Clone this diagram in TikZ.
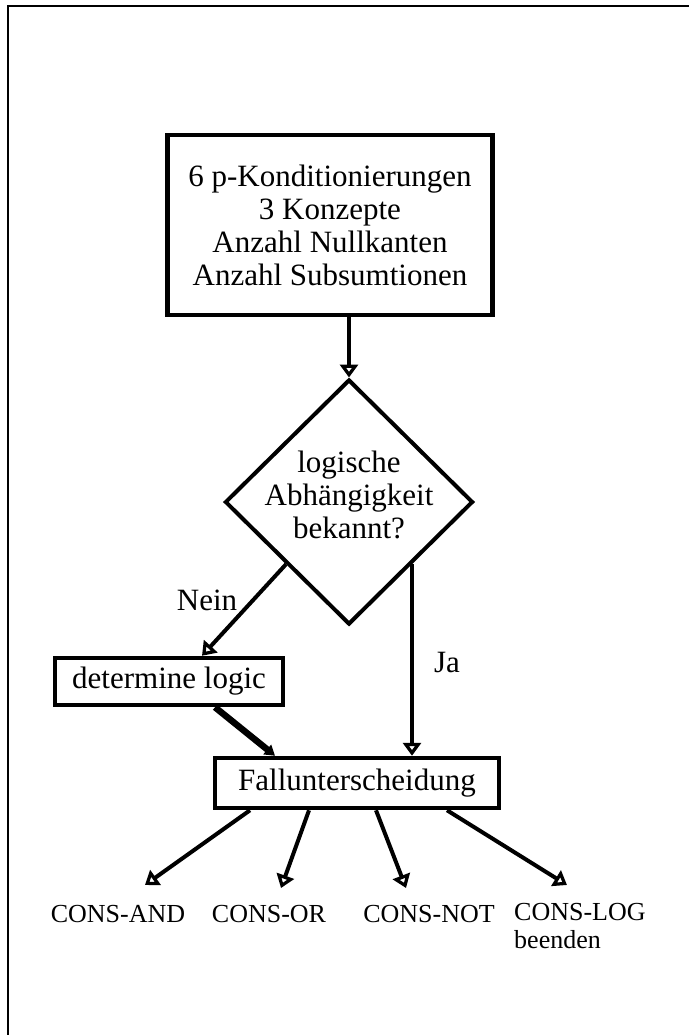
\documentclass[tikz,border=0pt]{standalone}
\usepackage{fontspec}
\setmainfont{Liberation Serif}
\usetikzlibrary{arrows.meta,shapes.geometric,calc}
\begin{document}
\begin{tikzpicture}[x=1pt,y=-1pt,
  box/.style={draw, line width=4.5pt, align=center, inner sep=0pt,
    font=\fontsize{31}{33}\selectfont},
  lbl/.style={font=\fontsize{31}{33}\selectfont, inner sep=0pt},
  cons/.style={font=\fontsize{26}{28}\selectfont, inner sep=0pt},
  flow/.style={line width=4pt,
    -{Triangle[open,length=13pt,width=18pt]}},
  heavy/.style={line width=6.5pt, -{Triangle[length=10pt,width=12pt]}},
]
\useasboundingbox (0,0) rectangle (689,1035);
% page frame (top and left edges only)
\draw[line width=1.5pt] (8,1035) -- (8,6) -- (689,6);

% nodes
\node[box, minimum width=325pt, minimum height=180pt] (spec) at (330,225)
  {6 p-Konditionierungen\\3 Konzepte\\Anzahl Nullkanten\\Anzahl Subsumtionen};
\node[diamond, draw, line width=4pt, minimum width=248pt, minimum height=245pt,
  inner sep=0pt] (dec) at (349,502) {};
\node[lbl, align=center] (dectext) at (349,495)
  {logische\\Abhängigkeit\\bekannt?};
\node[box, minimum width=228pt, minimum height=47pt] (logic) at (169,681.5)
  {determine logic};
\node[box, minimum width=284pt, minimum height=50pt] (fall) at (357,783)
  {Fallunterscheidung};

\node[lbl] (nein) at (207,600) {Nein};
\node[lbl] (ja) at (447,662) {Ja};

\node[cons] (cand) at (118,914) {CONS-AND};
\node[cons] (cor) at (269,914) {CONS-OR};
\node[cons] (cnot) at (429,914) {CONS-NOT};
\node[cons, align=left, anchor=north west] (clog) at (514,903)
  {CONS-LOG\\beenden};

% arrow tips above the result labels
\coordinate (tand) at (145,885);
\coordinate (tor)  at (281,888);
\coordinate (tnot) at (406,888);
\coordinate (tlog) at (567,885);

% connectors
\draw[flow] (dec.north |- spec.south) -- (dec.north);
\draw[flow] (dec.south west) -- ($(logic.north)+(33,0)$);
\draw[flow] (dec.south east) -- (dec.south east |- fall.north);
\draw[heavy] ($(logic.south)+(46,0)$) -- ($(fall.north)+(-82,0)$);

\draw[flow] ($(fall.south)+(-107,0)$) -- (tand);
\draw[flow] ($(fall.south)+(-48,0)$) -- (tor);
\draw[flow] ($(fall.south)+(19,0)$) -- (tnot);
\draw[flow] ($(fall.south)+(90,0)$) -- (tlog);
\end{tikzpicture}
\end{document}
